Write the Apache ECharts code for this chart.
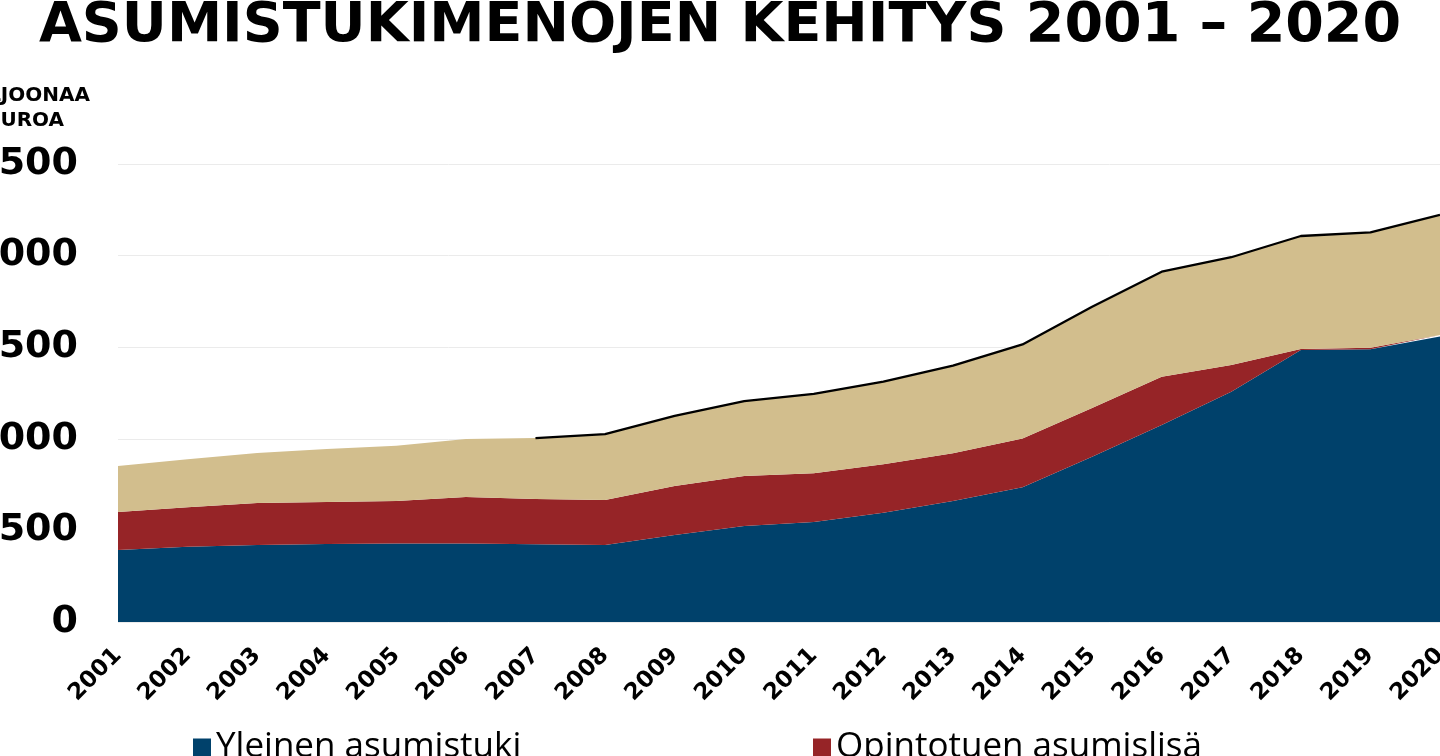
<!DOCTYPE html>
<html>
<head>
<meta charset="utf-8">
<script src="https://cdn.jsdelivr.net/npm/echarts@6/dist/echarts.min.js"></script>
<style>
html,body{margin:0;padding:0;background:#fff;}
#chart{width:1440px;height:756px;}
</style>
</head>
<body>
<div id="chart"></div>
<script>
const years = ['2001','2002','2003','2004','2005','2006','2007','2008','2009','2010','2011','2012','2013','2014','2015','2016','2017','2018','2019','2020'];
const yleinen = [393, 411, 420, 426, 428, 429, 424, 420, 475, 524, 546, 597, 660, 735, 902, 1075, 1257, 1485, 1489, 1558];
const opinto  = [207, 215, 230, 229, 232, 253, 247, 246, 267, 273, 266, 264, 261, 266, 266, 264, 146, 5, 8, 9];
const elake   = [252, 262, 272, 289, 302, 317, 333, 360, 383, 409, 433, 451, 478, 514, 553, 573, 588, 617, 630, 655];
const seriesNames = ['Yleinen asumistuki', 'Opintotuen asumislisä', 'Eläkkeensaajan asumistuki'];
const titleText = 'ASUMISTUKIMENOJEN KEHITYS 2001 – 2020';
const yAxisName = 'MILJOONAA\nEUROA';

const totalStart = 6;
const total = years.map((y, i) => i < totalStart ? null : yleinen[i] + opinto[i] + elake[i]);

const colors = ['#00416B', '#962427', '#D2BE8D'];
const chart = echarts.init(document.getElementById('chart'));
const areaSeries = [yleinen, opinto, elake].map((d, i) => ({
  name: seriesNames[i],
  type: 'line',
  stack: 'all',
  data: d,
  showSymbol: false,
  symbol: 'none',
  lineStyle: { width: 0 },
  itemStyle: { color: colors[i] },
  areaStyle: { color: colors[i], opacity: 1 },
  z: 2
}));

const legendText = { fontFamily: 'Open Sans', fontSize: 35, color: '#000' };

chart.setOption({
  animation: false,
  backgroundColor: '#fff',
  title: {
    text: titleText,
    left: 'center',
    top: -6,
    textStyle: { fontFamily: 'DejaVu Sans', fontWeight: 'bold', fontSize: 55.5, color: '#000' }
  },
  graphic: [{
    type: 'text',
    x: 25.4,
    y: 83,
    style: {
      text: yAxisName,
      align: 'center',
      verticalAlign: 'top',
      fontFamily: 'DejaVu Sans',
      fontWeight: 'bold',
      fontSize: 20,
      lineHeight: 25,
      fill: '#000'
    }
  }],
  legend: [
    { data: [seriesNames[0]], left: 188, top: 725, itemWidth: 18, itemHeight: 18, itemGap: 8, icon: 'rect', textStyle: legendText },
    { data: [seriesNames[1]], left: 808, top: 725, itemWidth: 18, itemHeight: 18, itemGap: 8, icon: 'rect', textStyle: legendText }
  ],
  grid: { left: 118, right: 0, top: 164, bottom: 134, containLabel: false, outerBoundsMode: 'none' },
  xAxis: {
    type: 'category',
    data: years,
    boundaryGap: false,
    axisLine: { show: false },
    axisTick: { show: false },
    axisLabel: {
      rotate: 45,
      margin: 30,
      interval: 0,
      fontFamily: 'DejaVu Sans',
      fontWeight: 'bold',
      fontSize: 23,
      color: '#000'
    }
  },
  yAxis: {
    type: 'value',
    min: 0,
    max: 2500,
    interval: 500,
    axisLine: { show: false },
    axisTick: { show: false },
    splitLine: { lineStyle: { color: '#EBEBEB', width: 1 } },
    axisLabel: {
      margin: 40,
      formatter: v => String(v),
      fontFamily: 'DejaVu Sans',
      fontWeight: 'bold',
      fontSize: 38,
      color: '#000'
    }
  },
  series: areaSeries.concat([{
    name: 'Yhteensä',
    type: 'line',
    data: total,
    showSymbol: false,
    symbol: 'none',
    lineStyle: { color: '#000', width: 2.3 },
    itemStyle: { color: '#000' },
    z: 5
  }])
});
</script>
</body>
</html>
